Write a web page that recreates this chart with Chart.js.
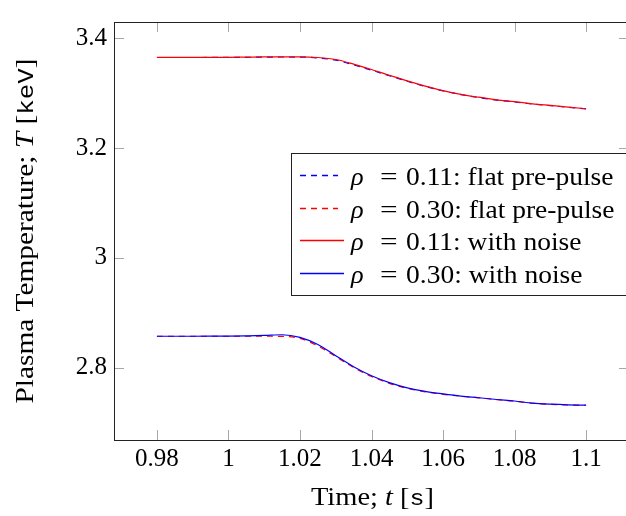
<!DOCTYPE html>
<html>
<head>
<meta charset="utf-8">
<script src="https://cdn.jsdelivr.net/npm/chart.js@4.4.1/dist/chart.umd.min.js"></script>
<style>
  html, body { margin: 0; padding: 0; background: #fff; overflow: hidden; }
  #wrap { width: 626px; height: 516px; overflow: hidden; }
</style>
</head>
<body>
<div id="wrap"><canvas id="chart" width="640" height="516"></canvas></div>
<script>
// time axis (s)
const times = [0.98, 0.985, 0.99, 0.995, 1.0, 1.005, 1.01, 1.015, 1.02, 1.025, 1.03, 1.035,
               1.04, 1.045, 1.05, 1.055, 1.06, 1.065, 1.07, 1.075, 1.08, 1.085, 1.09, 1.095, 1.1];

// temperatures (keV)
const flat011 = [3.3648, 3.3648, 3.3648, 3.3649, 3.3650, 3.3652, 3.3655, 3.3657, 3.3656, 3.3640,
                 3.3600, 3.3515, 3.3418, 3.3315, 3.3215, 3.3122, 3.3040, 3.2973, 3.2918, 3.2872,
                 3.2838, 3.2800, 3.2770, 3.2742, 3.2712];
const flat030 = [2.8570, 2.8570, 2.8570, 2.8570, 2.8570, 2.8570, 2.8570, 2.8568, 2.8530, 2.8395,
                 2.8200, 2.8000, 2.7838, 2.7712, 2.7622, 2.7558, 2.7512, 2.7478, 2.7448, 2.7415,
                 2.7385, 2.7350, 2.7330, 2.7318, 2.7312];
const noise011 = [3.3650, 3.3650, 3.3650, 3.3650, 3.3652, 3.3655, 3.3658, 3.3660, 3.3660, 3.3648,
                  3.3612, 3.3528, 3.3430, 3.3325, 3.3222, 3.3128, 3.3045, 3.2978, 3.2925, 3.2878,
                  3.2845, 3.2805, 3.2775, 3.2745, 3.2715];
const noise030 = [2.8570, 2.8570, 2.8570, 2.8571, 2.8573, 2.8578, 2.8585, 2.8597, 2.8550, 2.8420,
                  2.8215, 2.8015, 2.7850, 2.7725, 2.7630, 2.7565, 2.7520, 2.7480, 2.7450, 2.7418,
                  2.7390, 2.7352, 2.7332, 2.7320, 2.7315];

const xTicks = [0.98, 1.0, 1.02, 1.04, 1.06, 1.08, 1.1];
const yTicks = [2.8, 3.0, 3.2, 3.4];

const serif = '"Liberation Serif", serif';
const mono = '"Liberation Mono", monospace';
const fs = 25;

const xTitle = [['Time; ', 'r'], ['t', 'i'], [' [', 'r'], ['s', 'm'], [']', 'r']];
const yTitle = [['Plasma Temperature; ', 'r'], ['T', 'i'], [' [', 'r'], ['keV', 'm'], [']', 'r']];

const legendItems = [
  { rho: '0.11', text: 'flat pre-pulse', color: 'rgb(0,0,255)', dash: [6, 5] },
  { rho: '0.30', text: 'flat pre-pulse', color: 'rgb(255,0,0)', dash: [6, 5] },
  { rho: '0.11', text: 'with noise', color: 'rgb(255,0,0)', dash: [] },
  { rho: '0.30', text: 'with noise', color: 'rgb(0,0,255)', dash: [] }
];

function fontFor(kind) {
  if (kind === 'i') return 'italic ' + fs + 'px ' + serif;
  if (kind === 'm') return (fs - 3) + 'px ' + mono;
  return fs + 'px ' + serif;
}

function richWidth(ctx, parts) {
  let w = 0;
  parts.forEach(p => { ctx.font = fontFor(p[1]); w += ctx.measureText(p[0]).width; });
  return w;
}

function drawRich(ctx, parts, x, y) {
  let cx = x;
  parts.forEach(p => {
    ctx.font = fontFor(p[1]);
    ctx.fillText(p[0], cx, y);
    cx += ctx.measureText(p[0]).width;
  });
}

// draw text stretched to a given width, centred on (cx, y)
function drawFitted(ctx, parts, cx, y, width) {
  const w = richWidth(ctx, parts);
  ctx.save();
  ctx.translate(cx - width / 2, y);
  ctx.scale(width / w, 1);
  drawRich(ctx, parts, 0, 0);
  ctx.restore();
}

function drawScaled(ctx, parts, x, y, sx) {
  ctx.save();
  ctx.translate(x, y);
  ctx.scale(sx, 1);
  drawRich(ctx, parts, 0, 0);
  ctx.restore();
}

const framePlugin = {
  id: 'frame',
  beforeDatasetsDraw(chart) {
    const ctx = chart.ctx, a = chart.chartArea;
    const xs = chart.scales.x, ys = chart.scales.y;
    ctx.save();
    ctx.strokeStyle = '#a8a8a8';
    ctx.lineWidth = 1;
    ctx.beginPath();
    xTicks.forEach(v => {
      const px = Math.round(xs.getPixelForValue(v)) + 0.5;
      ctx.moveTo(px, a.bottom); ctx.lineTo(px, a.bottom - 10);
      ctx.moveTo(px, a.top); ctx.lineTo(px, a.top + 10);
    });
    yTicks.forEach(v => {
      const py = Math.round(ys.getPixelForValue(v)) + 0.5;
      ctx.moveTo(a.left, py); ctx.lineTo(a.left + 10, py);
      ctx.moveTo(a.right, py); ctx.lineTo(a.right - 10, py);
    });
    ctx.stroke();
    ctx.restore();
  },
  afterDraw(chart) {
    const ctx = chart.ctx, a = chart.chartArea;
    ctx.save();
    ctx.setLineDash([]);
    ctx.strokeStyle = '#222';
    ctx.lineWidth = 1;
    ctx.strokeRect(Math.round(a.left) + 0.5, Math.round(a.top) + 0.5,
                   Math.round(a.right - a.left), Math.round(a.bottom - a.top));

    ctx.fillStyle = '#000';
    ctx.textBaseline = 'alphabetic';
    ctx.textAlign = 'left';
    drawFitted(ctx, xTitle, (a.left + a.right) / 2 + 1, 505, 123);
    ctx.save();
    ctx.translate(33, (a.top + a.bottom) / 2);
    ctx.rotate(-Math.PI / 2);
    drawFitted(ctx, yTitle, 0, 0, 345);
    ctx.restore();

    // legend
    const lx = 291.5, ly = 153.5, lw = 345, lh = 142;
    ctx.fillStyle = '#fff';
    ctx.fillRect(lx, ly, lw, lh);
    ctx.strokeStyle = '#222';
    ctx.strokeRect(lx, ly, lw, lh);
    const rows = [175, 208, 240, 273];
    legendItems.forEach((it, i) => {
      const y = rows[i] + 0.5;
      ctx.save();
      ctx.lineWidth = 1.3;
      ctx.setLineDash(it.dash);
      ctx.strokeStyle = it.color;
      ctx.beginPath();
      ctx.moveTo(300, y);
      ctx.lineTo(it.dash.length ? 338 : 344, y);
      ctx.stroke();
      ctx.restore();
      ctx.fillStyle = '#000';
      drawScaled(ctx, [['\u03c1', 'i']], 351, y + 9, 1.05);
      drawScaled(ctx, [['=', 'r']], 380, y + 9, 1.25);
      drawScaled(ctx, [[it.rho + ': ' + it.text, 'r']], 406, y + 9, 1.1);
    });
    ctx.restore();
  }
};

const fmt = v => String(+Number(v).toFixed(2));

new Chart(document.getElementById('chart'), {
  type: 'line',
  data: {
    datasets: [
      { label: '\u03c1 = 0.11: flat pre-pulse', data: times.map((t, i) => ({ x: t, y: flat011[i] })),
        borderColor: '#0000ff', borderDash: [6, 5], order: 2 },
      { label: '\u03c1 = 0.30: flat pre-pulse', data: times.map((t, i) => ({ x: t, y: flat030[i] })),
        borderColor: '#ff0000', borderDash: [6, 5], order: 2 },
      { label: '\u03c1 = 0.11: with noise', data: times.map((t, i) => ({ x: t, y: noise011[i] })),
        borderColor: '#ff0000', order: 1 },
      { label: '\u03c1 = 0.30: with noise', data: times.map((t, i) => ({ x: t, y: noise030[i] })),
        borderColor: '#0000ff', order: 1 }
    ]
  },
  options: {
    responsive: false,
    animation: false,
    layout: { padding: { top: 10, right: 11, left: 0, bottom: 0 } },
    plugins: { legend: { display: false }, tooltip: { enabled: false } },
    elements: {
      point: { radius: 0 },
      line: { borderWidth: 1.2, fill: false, cubicInterpolationMode: 'monotone' }
    },
    scales: {
      x: {
        type: 'linear', min: 0.968, max: 1.112,
        grid: { display: false, drawTicks: false },
        border: { display: false },
        ticks: { stepSize: 0.02, includeBounds: false, autoSkip: false, maxRotation: 0,
                 padding: 4, color: '#000', font: { family: serif, size: fs }, callback: fmt },
        afterFit: s => { s.height = 76; }
      },
      y: {
        type: 'linear', min: 2.668, max: 3.4295,
        grid: { display: false, drawTicks: false },
        border: { display: false },
        ticks: { stepSize: 0.2, includeBounds: false, autoSkip: false,
                 padding: 7, color: '#000', font: { family: serif, size: fs }, callback: fmt },
        afterFit: s => { s.width = 114; }
      }
    }
  },
  plugins: [framePlugin]
});
</script>
</body>
</html>
